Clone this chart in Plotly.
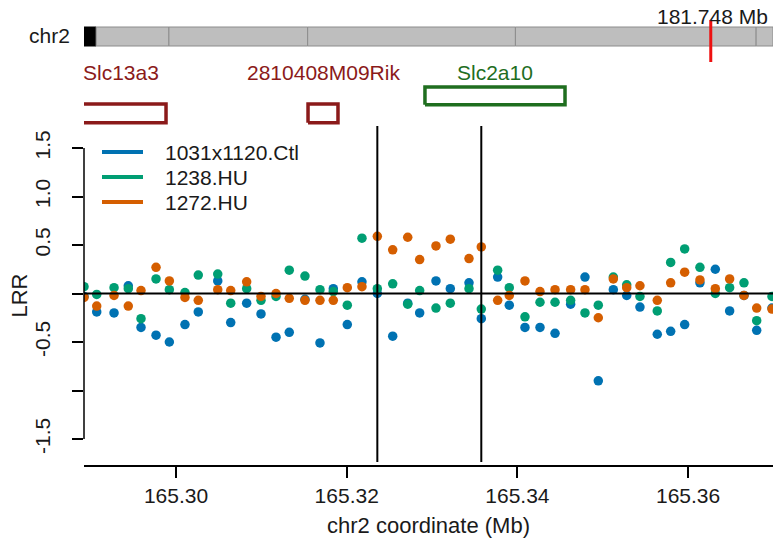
import plotly.graph_objects as go

# ---- probe data (chr2 coordinate in Mb, log R ratio per sample) ----
positions_mb = [
    165.28922, 165.29071, 165.29274, 165.29441, 165.29590, 165.29766, 165.29922, 165.30105,
    165.30261, 165.30489, 165.30641, 165.30828, 165.30996, 165.31172, 165.31327, 165.31511,
    165.31687, 165.31843, 165.32007, 165.32179, 165.32359, 165.32539, 165.32715, 165.32855,
    165.33046, 165.33214, 165.33433, 165.33577, 165.33769, 165.33905, 165.34089, 165.34265,
    165.34441, 165.34624, 165.34792, 165.34948, 165.35124, 165.35281, 165.35436, 165.35639,
    165.35796, 165.35960, 165.36139, 165.36319, 165.36487, 165.36655, 165.36804, 165.36983,
]
lrr_ctl = [
    -0.03, -0.19, -0.20, 0.08, -0.35, -0.43, -0.50, -0.32,
    -0.19, 0.13, -0.30, -0.10, -0.21, -0.45, -0.40, -0.06,
    -0.51, 0.05, -0.32, 0.12, 0.00, -0.44, -0.10, -0.20,
    0.13, 0.05, 0.11, -0.26, 0.17, -0.12, -0.35, -0.35,
    -0.41, -0.11, 0.17, -0.90, 0.04, -0.02, -0.14, -0.42,
    -0.39, -0.32, 0.11, 0.25, -0.18, -0.02, -0.38, -0.15,
]
lrr_1238 = [
    0.07, -0.01, 0.06, 0.05, -0.26, 0.15, 0.04, 0.01,
    0.19, 0.20, -0.10, 0.05, -0.07, -0.03, 0.24, 0.18,
    0.04, 0.02, -0.12, 0.57, 0.05, 0.10, -0.11, 0.03,
    -0.15, -0.10, 0.05, -0.16, 0.24, 0.06, -0.24, -0.09,
    -0.09, -0.07, -0.20, -0.12, 0.17, 0.09, -0.03, -0.18,
    0.32, 0.46, 0.27, 0.00, 0.06, 0.11, -0.28, -0.03,
]
lrr_1272 = [
    -0.04, -0.13, -0.02, -0.13, 0.03, 0.27, 0.13, -0.04,
    -0.07, 0.04, 0.03, 0.12, -0.03, 0.00, -0.05, -0.07,
    -0.07, -0.07, 0.06, 0.07, 0.59, 0.45, 0.58, 0.35,
    0.49, 0.56, 0.36, 0.48, -0.07, -0.02, 0.13, 0.02,
    0.04, 0.04, 0.04, -0.25, 0.15, 0.06, 0.08, -0.07,
    0.11, 0.22, 0.14, 0.05, 0.15, -0.02, -0.15, -0.16,
]
sample_names = ["1031x1120.Ctl", "1238.HU", "1272.HU"]
sample_colors = ["#0072B2", "#009E73", "#D55E00"]
sample_values = [lrr_ctl, lrr_1238, lrr_1272]

# highlighted probes
highlight_mb = [165.32359, 165.33577]

# view window and axis ticks
view_mb = [165.28922, 165.36995]
x_ticks = [165.30, 165.32, 165.34, 165.36]
y_ticks = [-1.5, -1.0, -0.5, 0.0, 0.5, 1.0, 1.5]
y_ticklabels = ["-1.5", "", "-0.5", "", "0.5", "1.0", "1.5"]

# genes in the window
gene_names = ["Slc13a3", "2810408M09Rik", "Slc2a10"]
gene_starts = [165.28817, 165.31547, 165.32917]
gene_ends = [165.29883, 165.31898, 165.34558]
gene_strands = ["-", "-", "+"]
gene_colors = ["#8B1A1A", "#8B1A1A", "#1F6E1F"]

# chromosome ideogram
chrom_name = "chr2"
chrom_length = 181.748
band_starts = [0.0, 3.2, 22.4, 59.0, 113.8, 177.3]
band_ends = [3.2, 22.4, 59.0, 113.8, 177.3, 181.748]
band_fill = ["#000000", "#BEBEBE", "#BEBEBE", "#BEBEBE", "#BEBEBE", "#BEBEBE"]

# ---- layout geometry (pixels in a 773 x 552 canvas) ----
W, H = 773, 552
FONT = "Liberation Sans, Arial, Helvetica, sans-serif"
TXT = "#1a1a1a"


def fx(px):
    return px / W


def fy(px):
    return 1 - px / H


plot_left, plot_top, plot_bottom = 84, 126, 465
x_domain = [fx(plot_left), 1.0]

fig = go.Figure()

# LRR points
for name, color, vals in zip(sample_names, sample_colors, sample_values):
    fig.add_trace(go.Scatter(
        x=positions_mb, y=vals, mode="markers", name=name,
        marker=dict(color=color, size=9.5, line=dict(width=0)),
        showlegend=False, xaxis="x", yaxis="y", cliponaxis=True,
    ))

# gene boxes (track above the LRR panel)
strand_rows = {"-": (0.07, 0.48), "+": (0.46, 0.85)}
for name, s, e, strand, color in zip(gene_names, gene_starts, gene_ends, gene_strands, gene_colors):
    y0, y1 = strand_rows[strand]
    fig.add_trace(go.Scatter(
        x=[s, e, e, s, s], y=[y0, y0, y1, y1, y0], mode="lines",
        line=dict(color=color, width=3.5), showlegend=False,
        xaxis="x3", yaxis="y3", hoverinfo="skip",
    ))

shapes = []
annotations = []

# ideogram bands
for b0, b1, fill in zip(band_starts, band_ends, band_fill):
    shapes.append(dict(
        type="rect", xref="x2", yref="paper", x0=b0, x1=b1,
        y0=fy(46), y1=fy(27), fillcolor=fill,
        line=dict(color="#8c8c8c" if fill != "#000000" else "#000000", width=1),
        layer="above",
    ))
# current window marker on the ideogram
region_center = sum(view_mb) / 2
shapes.append(dict(
    type="line", xref="x2", yref="paper", x0=region_center, x1=region_center,
    y0=fy(62), y1=fy(20), line=dict(color="#ee1111", width=3), layer="above",
))

# y axis line spanning the labelled tick range
shapes.append(dict(
    type="line", xref="paper", yref="y", x0=fx(plot_left), x1=fx(plot_left),
    y0=y_ticks[0], y1=y_ticks[-1], line=dict(color="black", width=1.5),
))
# zero reference line
shapes.append(dict(
    type="line", xref="x domain", yref="y", x0=0, x1=1, y0=0, y1=0,
    line=dict(color="black", width=2),
))
# highlighted probe lines
for xm in highlight_mb:
    shapes.append(dict(
        type="line", xref="x", yref="paper", x0=xm, x1=xm,
        y0=fy(462), y1=fy(plot_top), line=dict(color="black", width=2),
    ))

# legend (line keys)
for i, (name, color) in enumerate(zip(sample_names, sample_colors)):
    ly = 152 + 25 * i
    shapes.append(dict(
        type="line", xref="paper", yref="paper", x0=fx(102), x1=fx(143),
        y0=fy(ly), y1=fy(ly), line=dict(color=color, width=4),
    ))
    annotations.append(dict(
        text=name, xref="paper", yref="paper", x=fx(163), y=fy(ly),
        xanchor="left", yanchor="middle", showarrow=False,
        font=dict(family=FONT, size=21, color=TXT),
    ))

# gene labels
for name, s, e, color in zip(gene_names, gene_starts, gene_ends, gene_colors):
    annotations.append(dict(
        text=name, xref="x", yref="paper", x=(s + e) / 2, y=fy(72),
        xanchor="center", yanchor="middle", showarrow=False,
        font=dict(family=FONT, size=21, color=color),
    ))

# ideogram labels
annotations.append(dict(
    text=chrom_name, xref="paper", yref="paper", x=fx(72), y=fy(36),
    xanchor="right", yanchor="middle", showarrow=False,
    font=dict(family=FONT, size=21, color=TXT),
))
annotations.append(dict(
    text=f"{chrom_length:.3f} Mb", xref="paper", yref="paper", x=fx(770), y=fy(16),
    xanchor="right", yanchor="middle", showarrow=False,
    font=dict(family=FONT, size=21, color=TXT),
))

# axis titles
annotations.append(dict(
    text=f"{chrom_name} coordinate (Mb)", xref="paper", yref="paper",
    x=fx((plot_left + W) / 2), y=fy(525), xanchor="center", yanchor="middle",
    showarrow=False, font=dict(family=FONT, size=22, color=TXT),
))
annotations.append(dict(
    text="LRR", xref="paper", yref="paper", x=fx(19), y=fy((plot_top + plot_bottom) / 2),
    xanchor="center", yanchor="middle", textangle=-90,
    showarrow=False, font=dict(family=FONT, size=22, color=TXT),
))

y_range = [-1.768, 1.727]

fig.update_layout(
    width=W, height=H,
    margin=dict(l=0, r=0, t=0, b=0),
    paper_bgcolor="white", plot_bgcolor="white",
    showlegend=False,
    shapes=shapes,
    annotations=annotations,
    xaxis=dict(
        domain=x_domain, range=view_mb, anchor="y",
        tickvals=x_ticks, ticktext=[f"{v:.2f}" for v in x_ticks],
        ticks="outside", ticklen=11, tickwidth=1.5, tickcolor="black",
        showline=True, linecolor="black", linewidth=2,
        showgrid=False, zeroline=False,
        tickfont=dict(family=FONT, size=21, color=TXT),
    ),
    yaxis=dict(
        domain=[fy(plot_bottom), fy(plot_top)], range=y_range, anchor="x",
        tickvals=y_ticks, ticktext=y_ticklabels, tickangle=-90,
        ticks="outside", ticklen=11, tickwidth=1.5, tickcolor="black",
        ticklabelstandoff=14,
        showline=False, showgrid=False, zeroline=False,
        tickfont=dict(family=FONT, size=21, color=TXT),
    ),
    xaxis2=dict(domain=x_domain, range=[0, chrom_length], anchor="y2", visible=False),
    yaxis2=dict(domain=[fy(62), fy(15)], range=[0, 1], anchor="x2", visible=False),
    xaxis3=dict(domain=x_domain, range=view_mb, anchor="y3", matches="x", visible=False),
    yaxis3=dict(domain=[fy(plot_top), fy(80)], range=[0, 1], anchor="x3", visible=False),
)

fig.write_html("out.html")
